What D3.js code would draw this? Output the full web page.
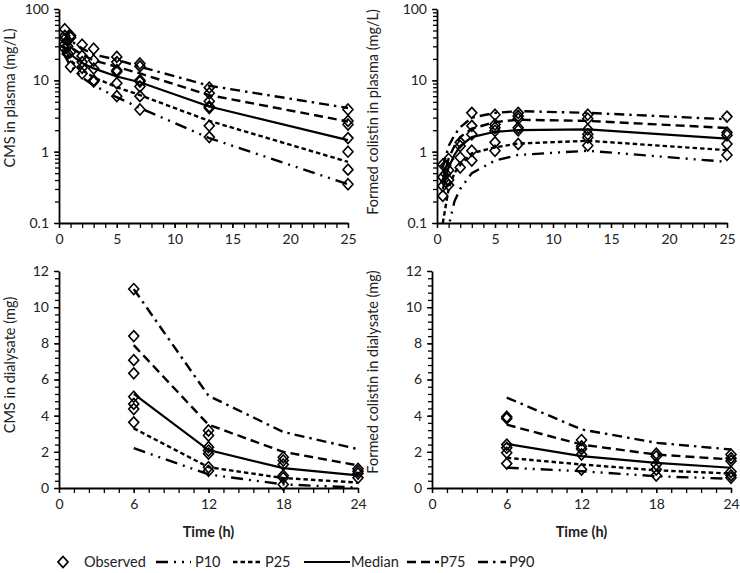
<!DOCTYPE html>
<html><head><meta charset="utf-8">
<script src="https://cdn.jsdelivr.net/npm/d3@7/dist/d3.min.js"></script>
<style>
body{margin:0;background:#fff;}
svg{display:block;font-family:Lato,"Open Sans",sans-serif;}
</style></head>
<body><svg id="c" width="740" height="573"></svg>
<script>
// ---------- DATA ----------
const seriesNames = ["P10","P25","Median","P75","P90"];

// Panel A: CMS in plasma (mg/L)
const plasmaTimesA = [0.25, 0.5, 1, 2, 3, 5, 7, 13, 25];
const cmsP10 = [24, 22, 16, 11, 8.5, 5.8, 4.1, 1.55, 0.35];
const cmsP25 = [27, 25, 19, 14, 11, 8.0, 6.2, 2.7, 0.72];
const cmsMed = [31, 29, 23, 17.5, 14.7, 11.3, 9.4, 4.3, 1.45];
const cmsP75 = [38, 35, 29, 23, 19, 15.5, 12.5, 6.2, 2.65];
const cmsP90 = [47, 44, 36, 28, 23, 19.5, 15.5, 8.4, 4.1];
const cmsObsT = [0.5,0.5,0.5,0.5,0.5, 0.75,0.75,0.75, 1,1,1,1, 2,2,2,2,2, 3,3,3,3,3, 5,5,5,5,5,5, 7,7,7,7,7,7,7, 13,13,13,13,13,13,13, 25,25,25,25,25,25,25];
const cmsObs  = [52,42,38,32,28, 36,30,24, 42.5,40,25,15.5, 31.5,22,18,15,12.5, 27.7,19,14.6,10,9.6, 21.3,18,13.9,13.2,9.1,6.0, 17.2,15.7,10,9.6,8.2,6.0,3.9, 7.9,6.6,5.1,4.3,4.1,2.3,1.6, 3.9,2.7,2.4,1.55,1.0,0.56,0.35];

// Panel B: Formed colistin in plasma (mg/L)
const plasmaTimesB = [0.5, 1, 1.5, 2, 3, 5, 7, 13, 25];
const colP10 = [0.02, 0.09, 0.2, 0.3, 0.5, 0.75, 0.9, 1.03, 0.72];
const colP25 = [0.1, 0.3, 0.5, 0.65, 0.95, 1.15, 1.3, 1.42, 1.05];
const colMed = [0.3, 0.6, 0.9, 1.2, 1.6, 1.9, 2.0, 2.05, 1.52];
const colP75 = [0.4, 0.8, 1.2, 1.6, 2.1, 2.6, 2.8, 2.7, 2.15];
const colP90 = [0.6, 1.2, 1.7, 2.2, 3.0, 3.5, 3.7, 3.5, 2.85];
const colObsT = [0.5,0.5,0.5,0.5, 0.75,0.75,0.75, 1,1,1,1, 2,2,2,2, 3,3,3,3,3, 5,5,5,5,5,5, 7,7,7,7,7,7, 13,13,13,13,13,13, 25,25,25,25,25];
const colObs  = [0.66,0.44,0.33,0.24, 0.64,0.49,0.38, 0.79,0.55,0.4,0.34, 1.35,1.2,0.83,0.6, 3.5,2.3,1.75,1.03,0.75, 3.3,2.4,2.16,1.96,1.35,1.03, 3.5,3.16,2.9,2.16,2.0,1.28, 3.3,2.9,2.05,1.75,1.58,1.22, 3.1,1.85,1.7,1.28,0.9];

// Panel C: CMS in dialysate (mg)
const dialTimes = [6, 12, 18, 24];
const dCmsP10 = [2.2, 0.75, 0.2, 0.02];
const dCmsP25 = [3.3, 1.15, 0.55, 0.3];
const dCmsMed = [5.2, 2.1, 1.1, 0.7];
const dCmsP75 = [7.9, 3.5, 2.0, 1.25];
const dCmsP90 = [11.0, 5.1, 3.1, 2.15];
const dCmsObsT = [6,6,6,6,6,6,6,6, 12,12,12,12,12,12,12, 18,18,18,18,18,18, 24,24,24,24];
const dCmsObs  = [11.0,8.4,7.07,6.34,5.05,4.65,4.37,3.63, 3.18,2.9,2.26,2.07,1.9,1.15,0.95, 1.7,1.52,1.3,0.69,0.56,0.19, 1.06,0.93,0.8,0.56];

// Panel D: Formed colistin in dialysate (mg)
const dColP10 = [1.12, 0.93, 0.65, 0.51];
const dColP25 = [1.67, 1.3, 0.98, 0.8];
const dColMed = [2.44, 1.76, 1.39, 1.12];
const dColP75 = [3.5, 2.4, 1.85, 1.58];
const dColP90 = [5.0, 3.24, 2.5, 2.13];
const dColObsT = [6,6,6,6,6,6, 12,12,12,12,12, 18,18,18,18,18, 24,24,24,24,24,24];
const dColObs  = [3.94,3.85,2.4,2.22,1.95,1.35, 2.65,2.3,2.16,1.85,1.02, 1.9,1.75,1.3,1.02,0.69, 1.85,1.65,1.5,0.9,0.7,0.56];

const logTicks = [0.1, 1, 10, 100];
const plasmaXTicks = [0, 5, 10, 15, 20, 25];
const dialXTicks = [0, 6, 12, 18, 24];
const dialYTicks = [0, 2, 4, 6, 8, 10, 12];

// ---------- STYLE ----------
const dashes = {P10:"12,6,2,6,2,6", P25:"4.5,3", Median:null, P75:"9,5", P90:"10,5,2.5,5"};
const widths = {P10:2.4, P25:2.4, Median:2.2, P75:2.4, P90:2.4};
const svg = d3.select("#c");
const FS = 14;
const TFS = 14.5;
const diamondPath = "M0,-5.5L5,0L0,5.5L-5,0Z";

function panel(o, idx){
  const g = svg.append("g");
  const x = d3.scaleLinear().domain(o.xDomain).range([o.x0, o.x1]);
  const y = o.log ? d3.scaleLog().domain([0.1,100]).range([o.yb, o.yt])
                  : d3.scaleLinear().domain([0,12]).range([o.yb, o.yt]);
  const cid = "clip"+idx;
  svg.append("clipPath").attr("id",cid).append("rect")
     .attr("x",o.x0).attr("y",o.yt-2).attr("width",o.x1-o.x0+8).attr("height",o.yb-o.yt+2);

  let yMinor;
  if(o.log){ yMinor=[]; [0.1,1,10].forEach(d=>{for(let k=1;k<10;k++) yMinor.push(d*k);}); yMinor.push(100);}
  else { yMinor = d3.range(0, 12.001, 0.4); }
  const xMinor = d3.range(o.xDomain[0], o.xDomain[1]+0.001, o.xMinorStep);

  g.append("g").attr("transform",`translate(0,${o.yb})`)
    .call(d3.axisBottom(x).tickValues(xMinor).tickSize(5).tickSizeOuter(0).tickFormat(""))
    .call(s=>{s.select(".domain").attr("stroke-width",1.8); s.selectAll(".tick line").attr("stroke-width",1.3);});
  g.append("g").attr("transform",`translate(0,${o.yb})`)
    .call(d3.axisBottom(x).tickValues(o.xTicks).tickSize(5).tickSizeOuter(0).tickPadding(6).tickFormat(d3.format("d")))
    .call(s=>{s.select(".domain").remove(); s.selectAll("text").attr("font-size",FS).attr("font-family","Lato").attr("fill","#222"); s.selectAll(".tick line").attr("stroke-width",1.3);});

  g.append("g").attr("transform",`translate(${o.x0},0)`)
    .call(d3.axisLeft(y).tickValues(yMinor).tickSize(4).tickSizeOuter(0).tickFormat(""))
    .call(s=>{s.select(".domain").attr("stroke-width",1.8); s.selectAll(".tick line").attr("stroke-width",1.3);});
  g.append("g").attr("transform",`translate(${o.x0},0)`)
    .call(d3.axisLeft(y).tickValues(o.yTicks).tickSize(5).tickSizeOuter(0).tickPadding(5)
      .tickFormat(o.log ? (d=>d3.format("~g")(d)) : d3.format("d")))
    .call(s=>{s.select(".domain").remove(); s.selectAll("text").attr("font-size",FS).attr("font-family","Lato").attr("fill","#222"); s.selectAll(".tick line").attr("stroke-width",1.3);});

  svg.append("text").attr("transform",`translate(${o.titleX},${o.titleY}) rotate(-90)`)
    .attr("text-anchor","middle").attr("font-size",TFS).attr("fill","#222").text(o.title);

  const lg = g.append("g").attr("clip-path",`url(#${cid})`);
  const line = d3.line().x(d=>x(d[0])).y(d=>y(Math.max(d[1], o.log?0.01:-1)));
  seriesNames.forEach((nm,i)=>{
    const pts = o.times.map((t,j)=>[t,o.series[i][j]]);
    lg.append("path").datum(pts).attr("d",line).attr("fill","none").attr("stroke","#000")
      .attr("stroke-width",widths[nm]).attr("stroke-dasharray",dashes[nm]);
  });
  g.append("g").selectAll("path").data(o.obsT.map((t,j)=>[t,o.obs[j]])).join("path")
    .attr("d",diamondPath).attr("transform",d=>`translate(${x(d[0])},${y(d[1])})`)
    .attr("fill","none").attr("stroke","#000").attr("stroke-width",1.6);

  if(o.xTitle){
    svg.append("text").attr("x",(o.x0+o.x1)/2).attr("y",537).attr("text-anchor","middle")
      .attr("font-size",TFS).attr("font-weight","bold").attr("fill","#222").text(o.xTitle);
  }
}

panel({x0:59,x1:348,yt:9,yb:223,log:true,xDomain:[0,25],xMinorStep:1,xTicks:plasmaXTicks,yTicks:logTicks,
  title:"CMS in plasma (mg/L)",titleX:15,titleY:98,times:plasmaTimesA,
  series:[cmsP10,cmsP25,cmsMed,cmsP75,cmsP90],obsT:cmsObsT,obs:cmsObs},0);
panel({x0:437,x1:727,yt:9,yb:223,log:true,xDomain:[0,25],xMinorStep:1,xTicks:plasmaXTicks,yTicks:logTicks,
  title:"Formed colistin in plasma (mg/L)",titleX:378,titleY:112,times:plasmaTimesB,
  series:[colP10,colP25,colMed,colP75,colP90],obsT:colObsT,obs:colObs},1);
panel({x0:59,x1:358,yt:271,yb:488,log:false,xDomain:[0,24],xMinorStep:1.2,xTicks:dialXTicks,yTicks:dialYTicks,
  title:"CMS in dialysate (mg)",titleX:15,titleY:365,times:dialTimes,
  series:[dCmsP10,dCmsP25,dCmsMed,dCmsP75,dCmsP90],obsT:dCmsObsT,obs:dCmsObs,xTitle:"Time (h)"},2);
panel({x0:432,x1:731,yt:271,yb:488,log:false,xDomain:[0,24],xMinorStep:1.2,xTicks:dialXTicks,yTicks:dialYTicks,
  title:"Formed colistin in dialysate (mg)",titleX:378,titleY:372,times:dialTimes,
  series:[dColP10,dColP25,dColMed,dColP75,dColP90],obsT:dColObsT,obs:dColObs,xTitle:"Time (h)"},3);

// ---------- LEGEND ----------
const leg = svg.append("g").attr("font-size",TFS).attr("fill","#222");
const ly = 562;
leg.append("path").attr("d",diamondPath).attr("transform",`translate(63,${ly})`)
  .attr("fill","none").attr("stroke","#000").attr("stroke-width",1.8);
leg.append("text").attr("x",84).attr("y",ly+5).text("Observed");
const legItems = [
  {nm:"P10", a:156, b:191, tx:195},
  {nm:"P25", a:233, b:262, tx:265},
  {nm:"Median", a:304, b:350, tx:351},
  {nm:"P75", a:407, b:439, tx:440},
  {nm:"P90", a:478, b:506, tx:509}
];
legItems.forEach(it=>{
  leg.append("line").attr("x1",it.a).attr("x2",it.b).attr("y1",ly).attr("y2",ly)
    .attr("stroke","#000").attr("stroke-width",widths[it.nm]).attr("stroke-dasharray",dashes[it.nm]);
  leg.append("text").attr("x",it.tx).attr("y",ly+5).text(it.nm);
});
</script></body></html>
